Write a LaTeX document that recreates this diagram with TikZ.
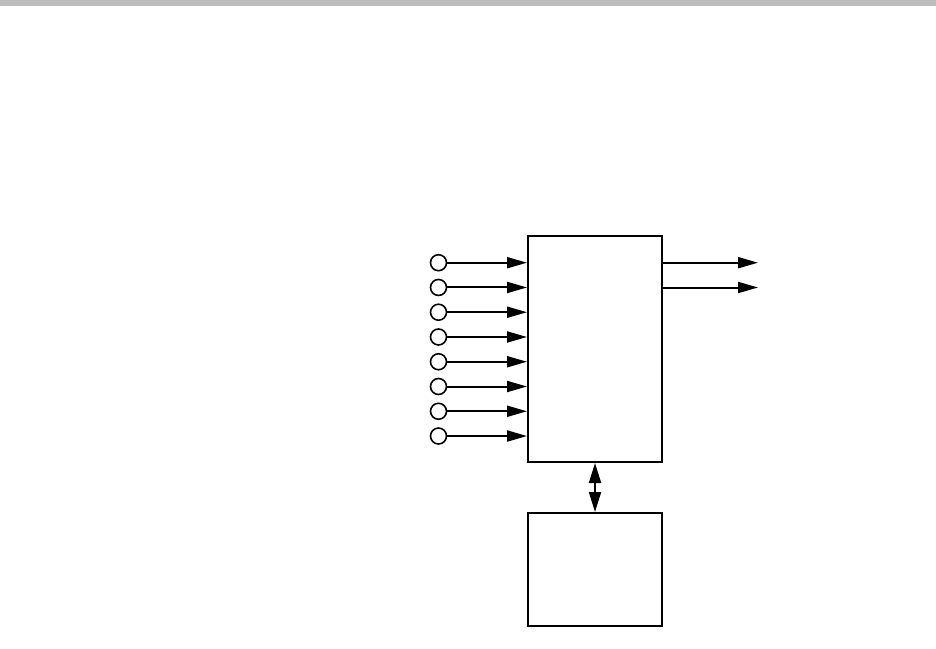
\documentclass[tikz,border=0pt]{standalone}
\usetikzlibrary{arrows.meta}
\definecolor{bargray}{RGB}{189,189,189}
\begin{document}
\begin{tikzpicture}[x=1pt,y=-1pt,
  boxst/.style={draw=black, line width=2pt, minimum width=134pt, inner sep=0pt},
  portst/.style={draw=black, circle, line width=1.6pt, minimum size=16pt, inner sep=0pt},
  arr/.style={line width=2pt, -{Triangle[length=20pt,width=11pt]}},
  darr/.style={line width=2pt, {Triangle[length=20pt,width=12pt]}-{Triangle[length=20pt,width=12pt]}}
]
\useasboundingbox (0,0) rectangle (936,648);
\fill[bargray] (0,0) rectangle (936,6);
\node[boxst, minimum height=226pt] (main) at (595,349) {};
\node[boxst, minimum height=113pt] (store) at (595,569.5) {};
\foreach \i in {0,...,7} {
  \node[portst] (c\i) at (438.5,{262.7+24.76*\i}) {};
  \draw[arr] (c\i.east) -- (main.west |- c\i);
}
\coordinate (o0) at (758,262.7);
\coordinate (o1) at (758,287.5);
\draw[arr] (main.east |- o0) -- (o0);
\draw[arr] (main.east |- o1) -- (o1);
\draw[darr] (main.south) -- (store.north);
\end{tikzpicture}
\end{document}
